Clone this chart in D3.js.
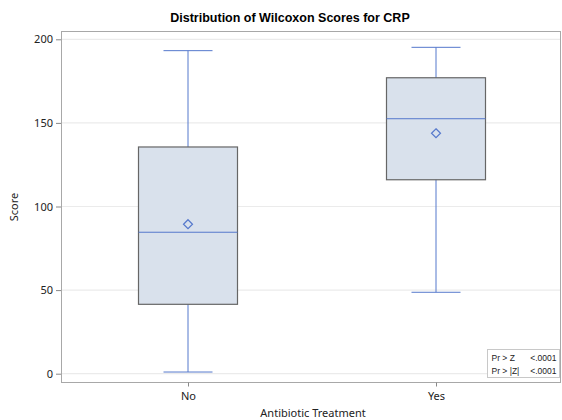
<!DOCTYPE html>
<html>
<head>
<meta charset="utf-8">
<script src="https://cdn.jsdelivr.net/npm/d3@7"></script>
<style>
  body { margin: 0; background: #fff; }
  text { font-family: "Liberation Sans", Arial, sans-serif; }
</style>
</head>
<body>
<script>
const categories = ["No", "Yes"];
const whiskerLow = [1, 48.7];
const q1 = [41.5, 116];
const median = [84.6, 152.5];
const q3 = [135.6, 177];
const whiskerHigh = [193.2, 195.2];
const means = [89.4, 143.8];
const yTicks = [0, 50, 100, 150, 200];
const insetRows = [["Pr > Z", "<.0001"], ["Pr > |Z|", "<.0001"]];

const width = 562, height = 420;
const margin = {top: 31, right: 1, bottom: 38, left: 61};
const blue = "#5578cc";

const svg = d3.select("body").append("svg")
    .attr("width", width)
    .attr("height", height);

const x = d3.scalePoint()
    .domain(categories)
    .range([margin.left + 3, width - margin.right - 1])
    .padding(0.5);
const y = d3.scaleLinear()
    .domain([0, 200])
    .range([373.7, 39.3]);

const plotBottom = height - margin.bottom;

// grid lines
svg.append("g").selectAll("line").data(yTicks).join("line")
    .attr("x1", margin.left).attr("x2", width - margin.right)
    .attr("y1", d => y(d)).attr("y2", d => y(d))
    .attr("stroke", "#ebebeb").attr("stroke-width", 1.2);

// frame
svg.append("rect")
    .attr("x", margin.left + 0.5).attr("y", margin.top + 0.5)
    .attr("width", width - margin.right - margin.left - 1)
    .attr("height", plotBottom - margin.top)
    .attr("fill", "none").attr("stroke", "#a8a8a8");

// axes
const yAxis = svg.append("g")
    .attr("transform", `translate(${margin.left},0)`)
    .call(d3.axisLeft(y).tickValues(yTicks).tickSize(5).tickPadding(3));
yAxis.select(".domain").remove();
yAxis.selectAll("line").attr("stroke", "#888");
yAxis.selectAll("text").attr("font-size", 11).attr("fill", "#222")
    .style("font-family", "'Noto Sans', sans-serif");

const xAxis = svg.append("g")
    .attr("transform", `translate(0,${plotBottom + 0.5})`)
    .call(d3.axisBottom(x).tickSize(4).tickPadding(6));
xAxis.select(".domain").remove();
xAxis.selectAll("line").attr("stroke", "#888");
xAxis.selectAll("text").attr("font-size", 11).attr("fill", "#222")
    .style("font-family", "'Noto Sans', sans-serif");

// boxes
const boxW = 99, capW = 49;
const g = svg.append("g");
categories.forEach((c, i) => {
  const cx = x(c);
  g.append("line")
      .attr("x1", cx).attr("x2", cx)
      .attr("y1", y(whiskerLow[i])).attr("y2", y(whiskerHigh[i]))
      .attr("stroke", blue);
  [whiskerLow[i], whiskerHigh[i]].forEach(v => {
    g.append("line")
        .attr("x1", cx - capW / 2).attr("x2", cx + capW / 2)
        .attr("y1", y(v)).attr("y2", y(v))
        .attr("stroke", blue);
  });
  g.append("rect")
      .attr("x", cx - boxW / 2).attr("y", y(q3[i]))
      .attr("width", boxW).attr("height", y(q1[i]) - y(q3[i]))
      .attr("fill", "#d9e1ec").attr("stroke", "#666").attr("stroke-width", 1.2);
  g.append("line")
      .attr("x1", cx - boxW / 2).attr("x2", cx + boxW / 2)
      .attr("y1", y(median[i])).attr("y2", y(median[i]))
      .attr("stroke", blue);
  g.append("path")
      .attr("transform", `translate(${cx},${y(means[i])})`)
      .attr("d", "M0,-4.5L4.5,0L0,4.5L-4.5,0Z")
      .attr("fill", "none").attr("stroke", blue).attr("stroke-width", 1.2);
});

// inset
const inset = svg.append("g").attr("transform", "translate(487.5,349.5)");
inset.append("rect").attr("width", 72).attr("height", 28)
    .attr("fill", "#fff").attr("stroke", "#c8c8c8");
insetRows.forEach((r, i) => {
  inset.append("text").attr("x", 4).attr("y", 11 + i * 13)
      .attr("font-size", 8.5).attr("fill", "#222").text(r[0]);
  inset.append("text").attr("x", 69).attr("y", 11 + i * 13)
      .attr("text-anchor", "end")
      .attr("font-size", 8.5).attr("fill", "#222").text(r[1]);
});

// titles
svg.append("text")
    .attr("x", 290).attr("y", 22)
    .attr("text-anchor", "middle")
    .attr("font-size", 12.5).attr("font-weight", "bold")
    .text("Distribution of Wilcoxon Scores for CRP");

svg.append("text")
    .attr("x", 313).attr("y", 417)
    .attr("text-anchor", "middle")
    .attr("font-size", 11).attr("fill", "#222")
    .style("font-family", "'Noto Sans', sans-serif")
    .text("Antibiotic Treatment");

svg.append("text")
    .attr("transform", "translate(18,207) rotate(-90)")
    .attr("text-anchor", "middle")
    .attr("font-size", 11).attr("fill", "#222")
    .style("font-family", "'Noto Sans', sans-serif")
    .text("Score");
</script>
</body>
</html>
